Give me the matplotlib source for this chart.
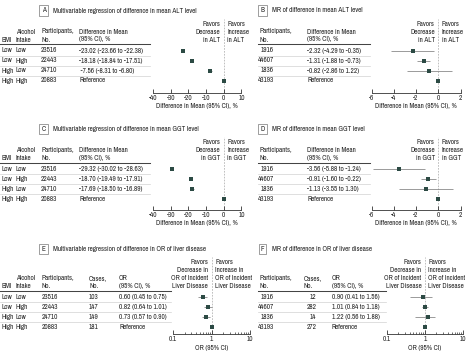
import numpy as np
import matplotlib.pyplot as plt
from matplotlib import font_manager as fm
from matplotlib.lines import Line2D
from matplotlib.ticker import LogLocator, NullFormatter

# look for a condensed face; fall back to a smaller Liberation Sans
narrow = [f for f in fm.fontManager.ttflist
          if f.style == 'normal' and f.weight in (400, 'normal', 'regular')
          and (f.stretch in ('condensed', 'semi-condensed')
               or 'Narrow' in f.name or 'Condensed' in f.name)]
if narrow:
    narrow.sort(key=lambda f: (f.stretch != 'semi-condensed', f.name))
    FONT = fm.FontProperties(fname=narrow[0].fname)
    FS = 5.15
else:
    FONT = fm.FontProperties(family='Liberation Sans')
    FS = 4.5
FONT.set_size(FS)

plt.rcParams['font.family'] = ['Liberation Sans', 'DejaVu Sans']
plt.rcParams['axes.unicode_minus'] = False

# Data
bmi = ['Low', 'Low', 'High', 'High']
alcohol = ['Low', 'High', 'Low', 'High']
n_mv = [23516, 22443, 24710, 20883]
n_mr = [1916, 44607, 1836, 43193]
cases_mv = [103, 147, 149, 181]
cases_mr = [12, 282, 14, 272]

alt_mv = [-23.02, -18.18, -7.56, 0]
alt_mv_lo = [-23.66, -18.84, -8.31, 0]
alt_mv_hi = [-22.38, -17.51, -6.80, 0]
alt_mr = [-2.32, -1.31, -0.82, 0]
alt_mr_lo = [-4.29, -1.88, -2.86, 0]
alt_mr_hi = [-0.35, -0.73, 1.22, 0]
ggt_mv = [-29.32, -18.70, -17.69, 0]
ggt_mv_lo = [-30.02, -19.49, -18.50, 0]
ggt_mv_hi = [-28.63, -17.91, -16.89, 0]
ggt_mr = [-3.56, -0.91, -1.13, 0]
ggt_mr_lo = [-5.88, -1.60, -3.55, 0]
ggt_mr_hi = [-1.24, -0.22, 1.30, 0]
or_mv = [0.60, 0.82, 0.73, 1]
or_mv_lo = [0.45, 0.64, 0.57, 1]
or_mv_hi = [0.75, 1.01, 0.90, 1]
or_mr = [0.90, 1.01, 1.22, 1]
or_mr_lo = [0.41, 0.84, 0.56, 1]
or_mr_hi = [1.56, 1.18, 1.88, 1]

W, H = 468, 360
TC = '#222222'
MC = '#2c4a44'

fig = plt.figure(figsize=(W / 100, H / 100), dpi=100)


def fx(x):
    return x / W


def fy(y):
    return 1 - y / H


def txt(x, y, s, ha='left', **kw):
    fig.text(fx(x), fy(y), s, ha=ha, va='center', fontproperties=FONT,
             color=TC, **kw)


def hline(x0, x1, y, color, lw):
    fig.add_artist(Line2D([fx(x0), fx(x1)], [fy(y), fy(y)], color=color, lw=lw))


def fmt_ci(est, lo, hi):
    out = []
    for e, l, h in zip(est[:-1], lo[:-1], hi[:-1]):
        out.append(f'{e:.2f} ({l:.2f} to {h:.2f})')
    width = max(len(s.split(' ')[0]) for s in out)
    out = [' ' * (width - len(s.split(' ')[0])) + s for s in out]
    return out + ['Reference']


def panel(letter, title, t, tx, headers, cols, tbl_x, ax_x, est, lo, hi,
          xlim, ticks, ticklabels, xlabel, dec, inc, axis_gap, log=False):
    # panel title
    txt(tx, t, letter, ha='center',
        bbox=dict(boxstyle='square,pad=0.3', fc='white', ec='#777777', lw=0.5))
    txt(tx + 9.5, t, title)

    head_y = [t + 13 + 8 * i for i in range(len(dec))]
    hb = head_y[-1]
    for x, lines in headers:
        for k, line in enumerate(lines):
            txt(x, hb - 8 * (len(lines) - 1 - k), line)
    hline(tbl_x[0], tbl_x[1], hb + 4.7, '#444444', 0.75)
    rows = [hb + 11 + 10 * i for i in range(4)]
    for i in range(3):
        hline(tbl_x[0], tbl_x[1], rows[i] + 5, '#d2d2d2', 0.5)
    for x, ha, vals in cols:
        for y, v in zip(rows, vals):
            txt(x, y, str(v), ha=ha)

    # forest plot
    axis_y = rows[0] + axis_gap
    top = head_y[0] - 5
    ax = fig.add_axes([fx(ax_x[0]), fy(axis_y), fx(ax_x[1] - ax_x[0]),
                       (axis_y - top) / H])
    est = np.array(est)
    err = [est - np.array(lo), np.array(hi) - est]
    ypos = np.arange(4)
    ax.errorbar(est, ypos, xerr=err, fmt='s', color=MC, ms=2.7, mew=0,
                ecolor='#8a8a8a', elinewidth=0.6, capsize=0, zorder=3)
    ref = 1 if log else 0
    ax.axvline(ref, color='#b5b5b5', lw=0.6, ls=(0, (2, 1.5)), zorder=1)
    if log:
        ax.set_xscale('log')
    ax.set_xlim(xlim)
    ax.set_ylim(3 + (axis_y - rows[-1]) / 10, -(rows[0] - top) / 10)
    ax.set_xticks(ticks)
    ax.set_xticklabels(ticklabels, fontproperties=FONT)
    if log:
        ax.xaxis.set_minor_locator(LogLocator(base=10, subs=np.arange(2, 10)))
        ax.xaxis.set_minor_formatter(NullFormatter())
        ax.tick_params(axis='x', which='minor', direction='in', length=1.8,
                       width=0.5, color='#333333')
    ax.tick_params(axis='x', which='major', direction='in', length=3, width=0.6,
                   pad=1.5, color='#333333', labelcolor=TC)
    ax.set_yticks([])
    for s in ['left', 'right', 'top']:
        ax.spines[s].set_visible(False)
    ax.spines['bottom'].set_linewidth(0.6)
    ax.spines['bottom'].set_color('#333333')
    ax.set_xlabel(xlabel, fontproperties=FONT, color=TC, labelpad=2)
    ax.patch.set_alpha(0)

    # favors labels either side of the reference line
    if log:
        frac = (np.log10(ref) - np.log10(xlim[0])) / (np.log10(xlim[1]) - np.log10(xlim[0]))
    else:
        frac = (ref - xlim[0]) / (xlim[1] - xlim[0])
    zx = ax_x[0] + (ax_x[1] - ax_x[0]) * frac
    for y, d, u in zip(head_y, dec, inc):
        txt(zx - 3.5, y, d, ha='right')
        txt(zx + 3.5, y, u, ha='left')


mv_heads = [(1, ['BMI']), (16, ['Alcohol', 'Intake']), (41, ['Participants,', 'No.'])]
mr_heads = [(259, ['Participants,', 'No.'])]
diff_lab = 'Difference in Mean (95% CI), %'
diff_ticks = [-40, -30, -20, -10, 0, 10]
mr_ticks = [-6, -4, -2, 0, 2]

# A
panel('A', 'Multivariable regression of difference in mean ALT level', 10.5, 43.5,
      mv_heads + [(79, ['Difference in Mean', '(95% CI), %'])],
      [(1, 'left', bmi), (16, 'left', alcohol), (41, 'left', n_mv),
       (79, 'left', fmt_ci(alt_mv, alt_mv_lo, alt_mv_hi))],
      (0, 150), (153, 241.5), alt_mv, alt_mv_lo, alt_mv_hi,
      (-40, 10), diff_ticks, [str(v) for v in diff_ticks],
      diff_lab, ['Favors', 'Decrease', 'in ALT'], ['Favors', 'Increase', 'in ALT'], 42)

# B
panel('B', 'MR of difference in mean ALT level', 10.5, 262.5,
      mr_heads + [(307, ['Difference in Mean', '(95% CI), %'])],
      [(274, 'right', n_mr), (307, 'left', fmt_ci(alt_mr, alt_mr_lo, alt_mr_hi))],
      (258, 370), (371.7, 460.5), alt_mr, alt_mr_lo, alt_mr_hi,
      (-6, 2), mr_ticks, [str(v) for v in mr_ticks],
      diff_lab, ['Favors', 'Decrease', 'in ALT'], ['Favors', 'Increase', 'in ALT'], 42)

# C
panel('C', 'Multivariable regression of difference in mean GGT level', 129, 43.5,
      mv_heads + [(79, ['Difference in Mean', '(95% CI), %'])],
      [(1, 'left', bmi), (16, 'left', alcohol), (41, 'left', n_mv),
       (79, 'left', fmt_ci(ggt_mv, ggt_mv_lo, ggt_mv_hi))],
      (0, 150), (153, 241.5), ggt_mv, ggt_mv_lo, ggt_mv_hi,
      (-40, 10), diff_ticks, [str(v) for v in diff_ticks],
      diff_lab, ['Favors', 'Decrease', 'in GGT'], ['Favors', 'Increase', 'in GGT'], 40.5)

# D
panel('D', 'MR of difference in mean GGT level', 129, 262.5,
      mr_heads + [(307, ['Difference in Mean', '(95% CI), %'])],
      [(274, 'right', n_mr), (307, 'left', fmt_ci(ggt_mr, ggt_mr_lo, ggt_mr_hi))],
      (258, 370), (371.7, 460.5), ggt_mr, ggt_mr_lo, ggt_mr_hi,
      (-6, 2), mr_ticks, [str(v) for v in mr_ticks],
      diff_lab, ['Favors', 'Decrease', 'in GGT'], ['Favors', 'Increase', 'in GGT'], 40.5)

or_dec = ['Favors', 'Decrease in', 'OR of Incident', 'Liver Disease']
or_inc = ['Favors', 'Increase in', 'OR of Incident', 'Liver Disease']

# E
panel('E', 'Multivariable regression of difference in OR of liver disease', 249, 43.5,
      [(1, ['BMI']), (16, ['Alcohol', 'Intake']), (42, ['Participants,', 'No.']),
       (89, ['Cases,', 'No.']), (119, ['OR', '(95% CI), %'])],
      [(1, 'left', bmi), (16, 'left', alcohol), (42, 'left', n_mv),
       (89, 'left', cases_mv), (119, 'left', fmt_ci(or_mv, or_mv_lo, or_mv_hi))],
      (0, 170.5), (173, 250), or_mv, or_mv_lo, or_mv_hi,
      (0.1, 10), [0.1, 1, 10], ['0.1', '1', '10'],
      'OR (95% CI)', or_dec, or_inc, 37, log=True)

# F
panel('F', 'MR of difference in OR of liver disease', 249, 262.5,
      [(259, ['Participants,', 'No.']), (304, ['Cases,', 'No.']), (332, ['OR', '(95% CI), %'])],
      [(274, 'right', n_mr), (316.5, 'right', cases_mr),
       (332, 'left', fmt_ci(or_mr, or_mr_lo, or_mr_hi))],
      (258, 386), (386.7, 463), or_mr, or_mr_lo, or_mr_hi,
      (0.1, 10), [0.1, 1, 10], ['0.1', '1', '10'],
      'OR (95% CI)', or_dec, or_inc, 37, log=True)

fig.savefig('out.png', dpi=100)
